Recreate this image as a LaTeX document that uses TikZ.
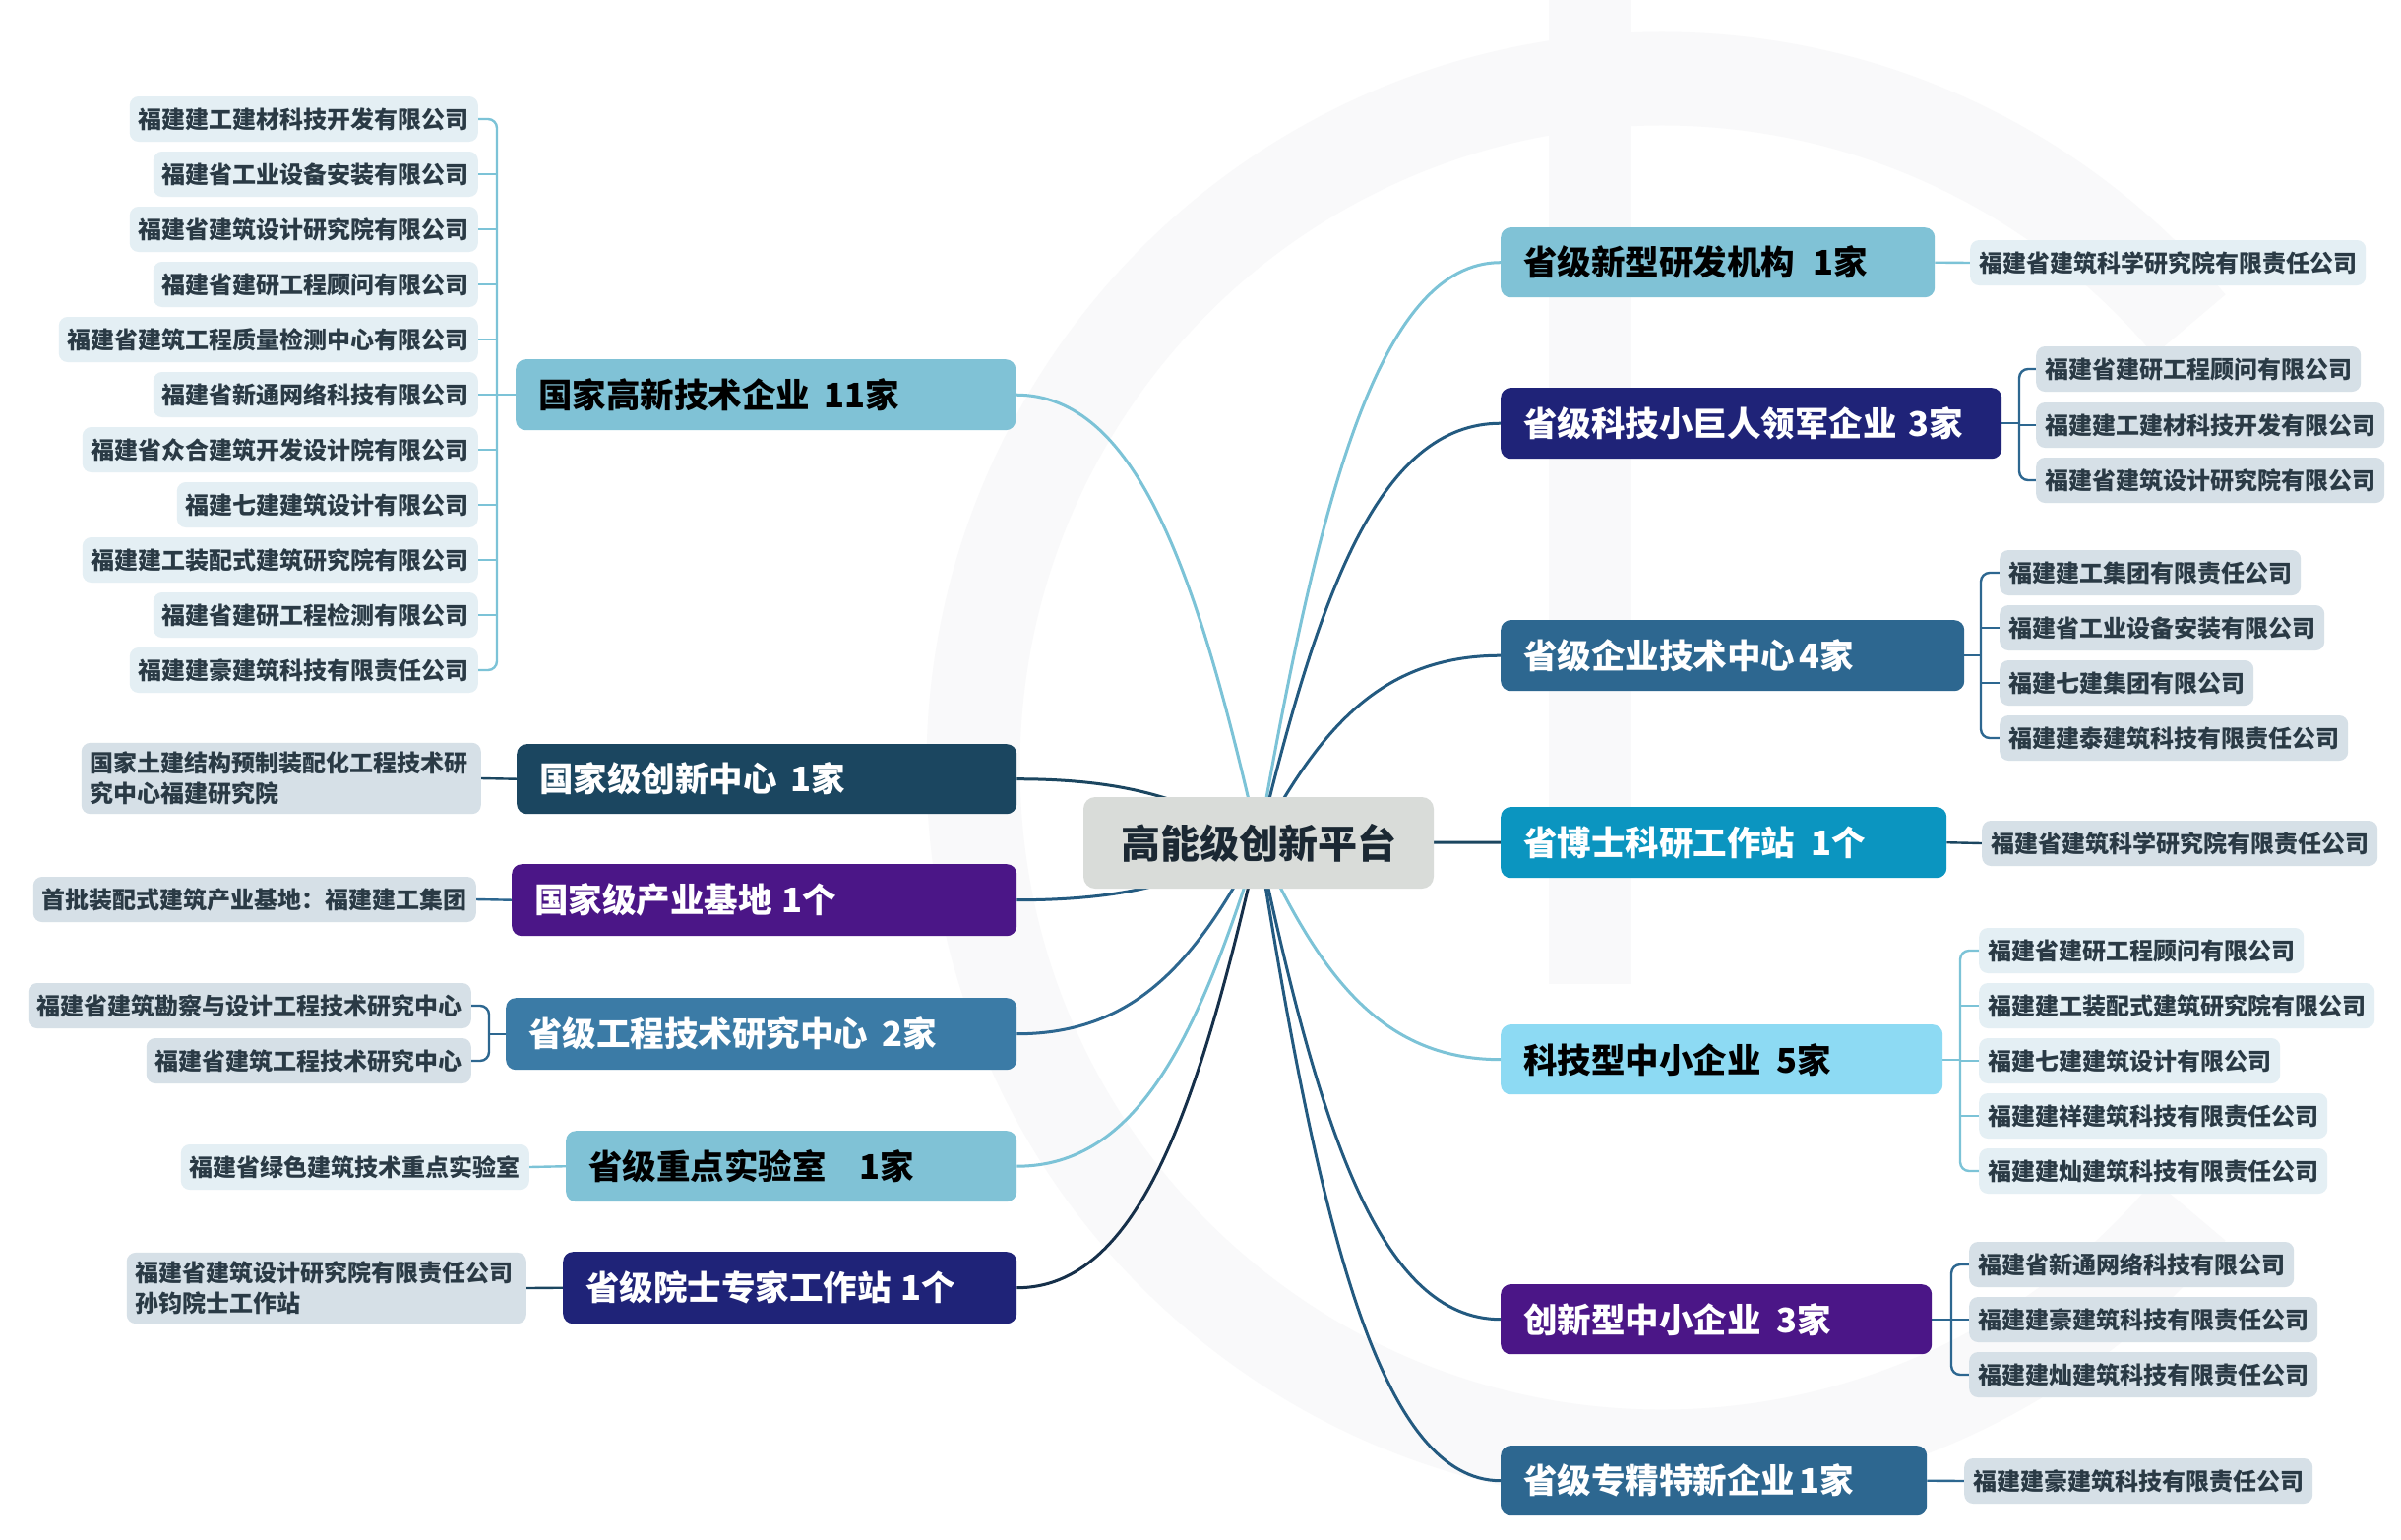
\documentclass[tikz,border=0pt]{standalone}
\usepackage{fontspec}
\setmainfont{Noto Sans CJK SC}
\usetikzlibrary{calc}
\pgfdeclarelayer{wm}
\pgfdeclarelayer{bg}
\pgfsetlayers{wm,bg,main}
\definecolor{cLB}{HTML}{80C2D6}
\definecolor{cDT}{HTML}{1B4660}
\definecolor{cPU}{HTML}{4B1687}
\definecolor{cSB}{HTML}{3B7BA6}
\definecolor{cNV}{HTML}{1F2378}
\definecolor{cSB2}{HTML}{2D6790}
\definecolor{cCY}{HTML}{0B95C0}
\definecolor{cLC}{HTML}{8DDAF3}
\definecolor{cGR}{HTML}{D9DCD9}
\definecolor{leafL}{HTML}{E4EFF4}
\definecolor{leafD}{HTML}{D6E0E7}
\definecolor{leaftext}{HTML}{2A3A45}
\definecolor{roottext}{HTML}{1B2833}
\definecolor{lnLB}{HTML}{7CC3D7}
\definecolor{lnDT}{HTML}{1B4660}
\definecolor{lnMB}{HTML}{235A80}
\definecolor{lnSB}{HTML}{2D6790}
\definecolor{lnNV}{HTML}{16304A}
\definecolor{wmc}{HTML}{F9F9FA}
\newcommand\mainlink[2]{%
  \draw[mainline,#1] let \p1=(root.center), \p2=(#2) in
    (\p1) .. controls ({\x1+0.25*(\x2-\x1)},{\y1+0.6*(\y2-\y1)})
    and ({\x1+0.5*(\x2-\x1)},{\y2}) .. (\p2);}
\begin{document}
\begin{tikzpicture}[x=1pt,y=-1pt,
  branchbox/.style={rounded corners=10pt, inner xsep=23pt, inner ysep=0pt,
    anchor=north west, align=left,
    font=\fontsize{34.5}{40}\selectfont\bfseries},
  leafbox/.style={rounded corners=9pt, inner xsep=9pt, inner ysep=6pt,
    minimum height=46pt, text=leaftext,
    font=\fontsize{24}{31}\selectfont\bfseries},
  lleaf/.style={leafbox, fill=leafL},
  dleaf/.style={leafbox, fill=leafD},
  mainline/.style={line width=3pt},
  leafline/.style={line width=2.4pt, rounded corners=9pt},
]
\useasboundingbox (0,0) rectangle (2440,1564);
\begin{pgfonlayer}{wm}
\fill[white] (0,0) rectangle (2440,1564);
\fill[wmc] (1574,0) rectangle (1658,1000);
\draw[wmc, line width=95pt] (1689,780) ++(40:700) arc[start angle=40, end angle=320, radius=700];
\end{pgfonlayer}

% root
\node[fill=cGR, rounded corners=12pt, minimum width=356pt, minimum height=93pt,
  text=roottext, font=\fontsize{40}{46}\selectfont\bfseries] (root) at (1279,856.5) {高能级创新平台};

% left branches
\node[branchbox, fill=cLB, text=black, minimum height=72pt, text width=462pt] (b1) at (524,365) {国家高新技术企业\hspace{14pt}11家};
\node[branchbox, fill=cDT, text=white, minimum height=71pt, text width=462pt] (b2) at (525,756) {国家级创新中心\hspace{14pt}1家};
\node[branchbox, fill=cPU, text=white, minimum height=73pt, text width=467pt] (b3) at (520,878) {国家级产业基地\hspace{10pt}1个};
\node[branchbox, fill=cSB, text=white, minimum height=73pt, text width=473pt] (b4) at (514,1014) {省级工程技术研究中心\hspace{14pt}2家};
\node[branchbox, fill=cLB, text=black, minimum height=72pt, text width=412pt] (b5) at (575,1149) {省级重点实验室\hspace{34pt}1家};
\node[branchbox, fill=cNV, text=white, minimum height=73pt, text width=415pt] (b6) at (572,1272) {省级院士专家工作站\hspace{10pt}1个};

% right branches
\node[branchbox, fill=cLB, text=black, minimum height=71pt, text width=395pt] (b7) at (1525,231) {省级新型研发机构\hspace{18pt}1家};
\node[branchbox, fill=cNV, text=white, minimum height=72pt, text width=463pt] (b8) at (1525,394) {省级科技小巨人领军企业\hspace{12pt}3家};
\node[branchbox, fill=cSB2, text=white, minimum height=72pt, text width=425pt] (b9) at (1525,630) {省级企业技术中心\hspace{4pt}4家};
\node[branchbox, fill=cCY, text=white, minimum height=72pt, text width=407pt] (b10) at (1525,820) {省博士科研工作站\hspace{16pt}1个};
\node[branchbox, fill=cLC, text=black, minimum height=71pt, text width=403pt] (b11) at (1525,1041) {科技型中小企业\hspace{16pt}5家};
\node[branchbox, fill=cPU, text=white, minimum height=71pt, text width=392pt] (b12) at (1525,1305) {创新型中小企业\hspace{16pt}3家};
\node[branchbox, fill=cSB2, text=white, minimum height=71pt, text width=387pt] (b13) at (1525,1469) {省级专精特新企业\hspace{4pt}1家};

% leaves of b1
\node[lleaf, anchor=east] (a1) at (486,121) {福建建工建材科技开发有限公司};
\node[lleaf, anchor=east] (a2) at (486,177) {福建省工业设备安装有限公司};
\node[lleaf, anchor=east] (a3) at (486,233) {福建省建筑设计研究院有限公司};
\node[lleaf, anchor=east] (a4) at (486,289) {福建省建研工程顾问有限公司};
\node[lleaf, anchor=east] (a5) at (486,345) {福建省建筑工程质量检测中心有限公司};
\node[lleaf, anchor=east] (a6) at (486,401) {福建省新通网络科技有限公司};
\node[lleaf, anchor=east] (a7) at (486,457) {福建省众合建筑开发设计院有限公司};
\node[lleaf, anchor=east] (a8) at (486,513) {福建七建建筑设计有限公司};
\node[lleaf, anchor=east] (a9) at (486,569) {福建建工装配式建筑研究院有限公司};
\node[lleaf, anchor=east] (a10) at (486,625) {福建省建研工程检测有限公司};
\node[lleaf, anchor=east] (a11) at (486,681) {福建建豪建筑科技有限责任公司};
% leaves of other left branches
\node[dleaf, anchor=east, text width=388pt, align=left, inner ysep=9pt] (c1) at (489,791) {国家土建结构预制装配化工程技术研\\究中心福建研究院};
\node[dleaf, anchor=east] (d1) at (484,914) {首批装配式建筑产业基地：福建建工集团};
\node[dleaf, anchor=east] (e1) at (479,1022) {福建省建筑勘察与设计工程技术研究中心};
\node[dleaf, anchor=east] (e2) at (479,1078) {福建省建筑工程技术研究中心};
\node[lleaf, anchor=east] (f1) at (538,1186) {福建省绿色建筑技术重点实验室};
\node[dleaf, anchor=east, text width=388pt, align=left, inner ysep=9pt] (g1) at (535,1309) {福建省建筑设计研究院有限责任公司\\孙钧院士工作站};

% right leaves
\node[lleaf, anchor=west] (h1) at (2002,267) {福建省建筑科学研究院有限责任公司};
\node[dleaf, anchor=west] (i1) at (2069,375) {福建省建研工程顾问有限公司};
\node[dleaf, anchor=west] (i2) at (2069,432) {福建建工建材科技开发有限公司};
\node[dleaf, anchor=west] (i3) at (2069,488) {福建省建筑设计研究院有限公司};
\node[dleaf, anchor=west] (j1) at (2032,582) {福建建工集团有限责任公司};
\node[dleaf, anchor=west] (j2) at (2032,638) {福建省工业设备安装有限公司};
\node[dleaf, anchor=west] (j3) at (2032,694) {福建七建集团有限公司};
\node[dleaf, anchor=west] (j4) at (2032,750) {福建建泰建筑科技有限责任公司};
\node[dleaf, anchor=west] (k1) at (2014,857) {福建省建筑科学研究院有限责任公司};
\node[lleaf, anchor=west] (m1) at (2011,966) {福建省建研工程顾问有限公司};
\node[lleaf, anchor=west] (m2) at (2011,1022) {福建建工装配式建筑研究院有限公司};
\node[lleaf, anchor=west] (m3) at (2011,1078) {福建七建建筑设计有限公司};
\node[lleaf, anchor=west] (m4) at (2011,1134) {福建建祥建筑科技有限责任公司};
\node[lleaf, anchor=west] (m5) at (2011,1190) {福建建灿建筑科技有限责任公司};
\node[dleaf, anchor=west] (n1) at (2001,1285) {福建省新通网络科技有限公司};
\node[dleaf, anchor=west] (n2) at (2001,1341) {福建建豪建筑科技有限责任公司};
\node[dleaf, anchor=west] (n3) at (2001,1397) {福建建灿建筑科技有限责任公司};
\node[dleaf, anchor=west] (p1) at (1996,1505) {福建建豪建筑科技有限责任公司};

% spine coordinates
\coordinate (s1) at (505,0);
\coordinate (s4) at (497,0);
\coordinate (s8) at (2052,0);
\coordinate (s9) at (2013,0);
\coordinate (s11) at (1992,0);
\coordinate (s12) at (1983,0);

\begin{pgfonlayer}{bg}
% main curves
\mainlink{lnLB}{b1.east}
\mainlink{lnDT}{b2.east}
\mainlink{lnMB}{b3.east}
\mainlink{lnSB}{b4.east}
\mainlink{lnLB}{b5.east}
\mainlink{lnNV}{b6.east}
\mainlink{lnLB}{b7.west}
\mainlink{lnMB}{b8.west}
\mainlink{lnMB}{b9.west}
\mainlink{lnDT}{b10.west}
\mainlink{lnLB}{b11.west}
\mainlink{lnMB}{b12.west}
\mainlink{lnMB}{b13.west}

% leaf connectors, left
\draw[leafline, lnLB] (b1.west) -- (b1.west -| s1);
\draw[leafline, lnLB] (a1.east) -- (a1.east -| s1) -- (a11.east -| s1) -- (a11.east);
\foreach \q in {a2,a3,a4,a5,a6,a7,a8,a9,a10}{\draw[leafline, lnLB] (\q.east) -- (\q.east -| s1);}
\draw[leafline, lnDT] (b2.west) -- (c1.east);
\draw[leafline, lnSB] (b3.west) -- (d1.east);
\draw[leafline, lnSB] (b4.west) -- (b4.west -| s4);
\draw[leafline, lnSB] (e1.east) -- (e1.east -| s4) -- (e2.east -| s4) -- (e2.east);
\draw[leafline, lnLB] (b5.west) -- (f1.east);
\draw[leafline, lnDT] (b6.west) -- (g1.east);

% leaf connectors, right
\draw[leafline, lnLB] (b7.east) -- (h1.west);
\draw[leafline, lnSB] (b8.east) -- (b8.east -| s8);
\draw[leafline, lnSB] (i1.west) -- (i1.west -| s8) -- (i3.west -| s8) -- (i3.west);
\draw[leafline, lnSB] (i2.west) -- (i2.west -| s8);
\draw[leafline, lnSB] (b9.east) -- (b9.east -| s9);
\draw[leafline, lnSB] (j1.west) -- (j1.west -| s9) -- (j4.west -| s9) -- (j4.west);
\foreach \q in {j2,j3}{\draw[leafline, lnSB] (\q.west) -- (\q.west -| s9);}
\draw[leafline, lnDT] (b10.east) -- (k1.west);
\draw[leafline, lnLB] (b11.east) -- (b11.east -| s11);
\draw[leafline, lnLB] (m1.west) -- (m1.west -| s11) -- (m5.west -| s11) -- (m5.west);
\foreach \q in {m2,m3,m4}{\draw[leafline, lnLB] (\q.west) -- (\q.west -| s11);}
\draw[leafline, lnSB] (b12.east) -- (b12.east -| s12);
\draw[leafline, lnSB] (n1.west) -- (n1.west -| s12) -- (n3.west -| s12) -- (n3.west);
\draw[leafline, lnSB] (n2.west) -- (n2.west -| s12);
\draw[leafline, lnSB] (b13.east) -- (p1.west);
\end{pgfonlayer}
\end{tikzpicture}
\end{document}
